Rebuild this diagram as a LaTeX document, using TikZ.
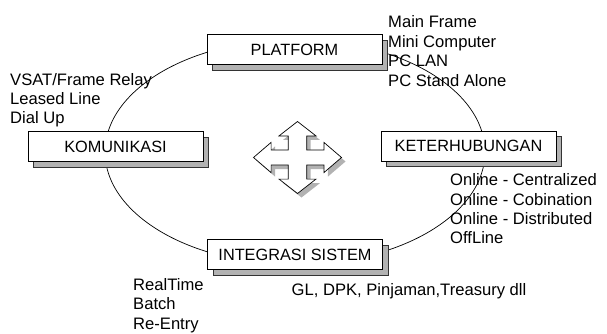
\documentclass[tikz,border=0pt]{standalone}
\usepackage{fontspec}
\setmainfont{Liberation Sans}
\usetikzlibrary{shadows}
\tikzset{
  % topic box with a grey shadow
  topic/.style = {
    draw = black,
    fill = white,
    line width = 0.7pt,
    minimum width = 175pt,
    minimum height = 30pt,
    inner sep = 0,
    font = \fontsize{16.3}{19}\selectfont,
    drop shadow={shadow xshift=5.5pt,shadow yshift=-5.5pt,opacity=1,fill=gray!60,draw=gray!40!black,line width=0.3pt}
  },
  % one line of a list
  item/.style = {
    anchor = base west,
    inner sep = 0,
    font = \fontsize{16.6}{19}\selectfont
  },
  orbit/.style = {
    draw = black,
    line width = 0.7pt
  }
}
% four way arrow, unit size
\newcommand{\crossarrow}{(0,-1) -- (0.42,-0.6) -- (0.21,-0.6) -- (0.21,-0.21)
  -- (0.6,-0.21) -- (0.6,-0.42) -- (1,0) -- (0.6,0.42) -- (0.6,0.21)
  -- (0.21,0.21) -- (0.21,0.6) -- (0.42,0.6) -- (0,1) -- (-0.42,0.6)
  -- (-0.21,0.6) -- (-0.21,0.21) -- (-0.6,0.21) -- (-0.6,0.42) -- (-1,0)
  -- (-0.6,-0.42) -- (-0.6,-0.21) -- (-0.21,-0.21) -- (-0.21,-0.6)
  -- (-0.42,-0.6) -- cycle}

\begin{document}
\begin{tikzpicture}[x=1pt, y=-1pt]
  \useasboundingbox (0,0) rectangle (607,334);

  \draw[orbit] (295,152) ellipse [x radius=190, y radius=112.5];

  \node[topic] (platform) at (294.5,49.5) {PLATFORM};
  \node[topic] (komunikasi) at (115.5,146.5) {KOMUNIKASI};
  \node[topic] (keterhubungan) at (468.5,146) {KETERHUBUNGAN};
  \node[topic] (integrasi) at (295,254.5) {INTEGRASI SISTEM};

  % lists
  \foreach \txt [count=\i from 0] in {Main Frame, Mini Computer, PC LAN, PC Stand Alone}
    \node[item] (platform-\i) at (388, {28+19.4*\i}) {\txt};
  \foreach \txt [count=\i from 0] in {VSAT/Frame Relay, Leased Line, Dial Up}
    \node[item] (komunikasi-\i) at (10, {86+19*\i}) {\txt};
  \foreach \txt [count=\i from 0] in {Online - Centralized, Online - Cobination, Online - Distributed, OffLine}
    \node[item] (keterhubungan-\i) at (450, {185.7+19.4*\i}) {\txt};
  \foreach \txt [count=\i from 0] in {RealTime, Batch, Re-Entry}
    \node[item] (integrasi-\i) at (133, {290+19.5*\i}) {\txt};
  \node[item] (modul) at (291.5,295) {GL, DPK, Pinjaman,Treasury dll};

  % arrow in the middle
  \begin{scope}[shift={(301.5,161.5)}, xscale=44, yscale=36]
    \fill[gray!60] \crossarrow;
  \end{scope}
  \begin{scope}[shift={(297.5,157.5)}, xscale=44, yscale=36]
    \filldraw[fill=white, draw=black, line width=0.7pt] \crossarrow;
  \end{scope}
\end{tikzpicture}
\end{document}
